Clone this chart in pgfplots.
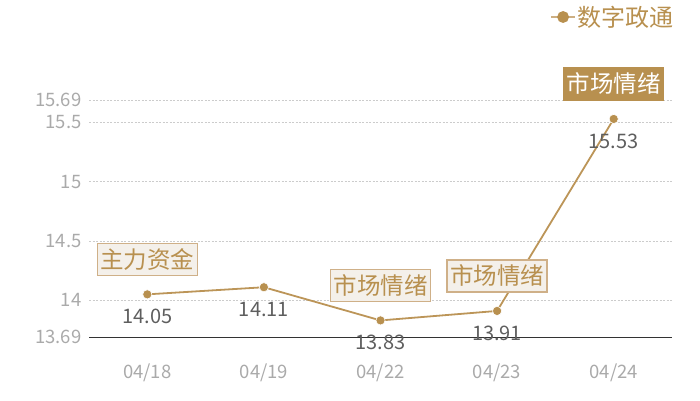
\documentclass[border=0pt]{standalone}
\usepackage{pgfplots}
\pgfplotsset{compat=1.18}
\usepackage{fontspec}
\setmainfont{Noto Sans CJK SC}
\definecolor{gold}{HTML}{B8904F}
\definecolor{goldline}{HTML}{BC9558}
\definecolor{boxfill}{HTML}{F4F0EA}
\definecolor{boxline}{HTML}{CFB088}
\definecolor{ticktext}{HTML}{AAAAAA}
\definecolor{valtext}{HTML}{5E5E5E}
\definecolor{gridc}{HTML}{CCCCCC}
\begin{document}
\begin{tikzpicture}
\begin{axis}[
  at={(89pt,63pt)}, anchor=south west,
  scale only axis,
  width=583pt, height=237pt,
  xmin=-0.5, xmax=4.5,
  ymin=13.69, ymax=15.69,
  xtick={0,1,2,3,4},
  xticklabels={04/18,04/19,04/22,04/23,04/24},
  ytick={13.69,14,14.5,15,15.5,15.69},
  yticklabels={13.69,14,14.5,15,15.5,15.69},
  major tick length=0pt,
  ymajorgrids,
  grid style={gridc, dash pattern=on 2pt off 1.5pt, line width=0.6pt},
  axis line style={draw=none},
  separate axis lines,
  axis x line*=bottom,
  x axis line style={draw=black!80, line width=0.8pt},
  tick label style={font=\fontsize{18.5}{18.5}\selectfont, text=ticktext},
  xticklabel style={yshift=-23pt},
  yticklabel style={xshift=-4pt},
  legend style={draw=none, fill=none, at={(axis description cs:1,1)}, anchor=east,
    xshift=4pt, yshift=83pt, font=\fontsize{24}{24}\selectfont, text=gold,
    inner sep=0pt},
  legend image code/.code={
    \draw[goldline!75, line width=1.4pt] (0pt,0pt) -- (24pt,0pt);
    \fill[gold] (12pt,0pt) circle (5pt);
  },
  clip=false,
]
\addplot[color=goldline, line width=1.8pt, mark=*, mark size=4.6pt,
  mark options={fill=gold, draw=white, line width=0.6pt},
  nodes near coords,
  point meta=explicit symbolic,
  every node near coord/.append style={anchor=center, yshift=-22pt,
    font=\fontsize{20}{20}\selectfont, text=valtext},
] table[meta=lbl] {
x y lbl
0 14.05 14.05
1 14.11 14.11
2 13.83 13.83
3 13.91 13.91
4 15.53 15.53
};
\addlegendentry{数字政通}
\tikzset{ann/.style={draw=boxline, line width=1.5pt, fill=boxfill, text=gold,
  font=\fontsize{23.5}{23.5}\selectfont, inner xsep=3pt, inner ysep=5pt, yshift=35pt}}
\node[ann] at (axis cs:0,14.05) {主力资金};
\node[ann] at (axis cs:2,13.83) {市场情绪};
\node[ann] at (axis cs:3,13.91) {市场情绪};
\node[ann, draw=gold, fill=gold, text=white] at (axis cs:4,15.53) {市场情绪};
\end{axis}
\pgfresetboundingbox
\path (0pt,0pt) rectangle (700pt,400pt);
\end{tikzpicture}
\end{document}
